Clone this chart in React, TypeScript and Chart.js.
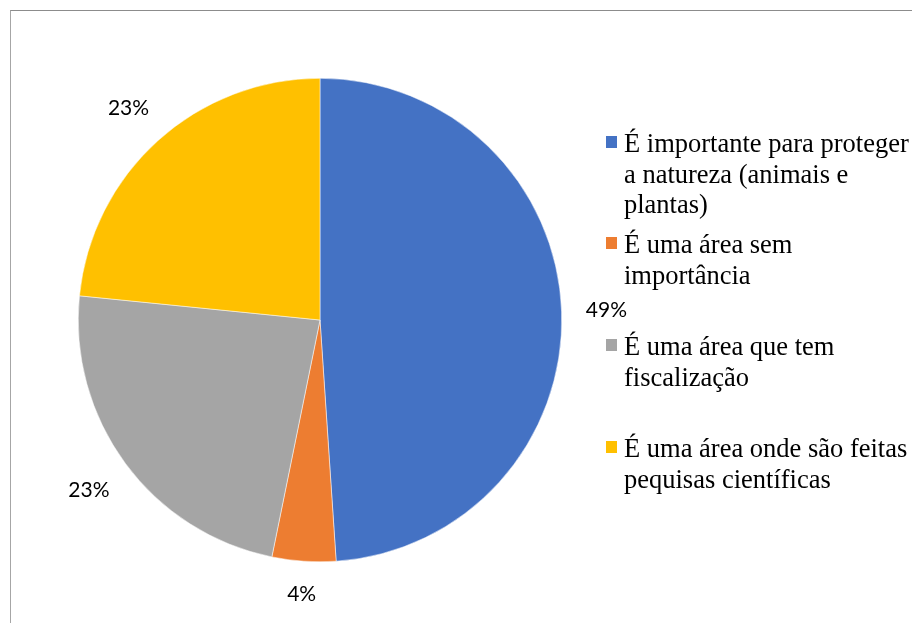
import React, { useEffect, useRef } from "react";
import { Chart, registerables } from "chart.js";

Chart.register(...registerables);

const categories = [
  "É importante para proteger a natureza (animais e plantas)",
  "É uma área sem importância",
  "É uma área que tem fiscalização",
  "É uma área onde são feitas pequisas científicas",
];
const legendLines = [
  ["É importante para proteger", "a natureza (animais e", "plantas)"],
  ["É uma área sem", "importância"],
  ["É uma área que tem", "fiscalização"],
  ["É uma área onde são feitas", "pequisas científicas"],
];
const values = [23, 2, 11, 11];
const colors = ["#4472C4", "#ED7D31", "#A5A5A5", "#FFC000"];
const legendTops = [128, 229, 331, 433];

const labelPlugin = {
  id: "outerLabels",
  afterDatasetsDraw(chart: any) {
    const ctx = chart.ctx;
    const meta = chart.getDatasetMeta(0);
    const data = chart.data.datasets[0].data as number[];
    const total = data.reduce((a: number, b: number) => a + b, 0);
    ctx.save();
    ctx.font = "21px Lato";
    ctx.fillStyle = "#000000";
    ctx.textAlign = "center";
    ctx.textBaseline = "middle";
    meta.data.forEach((arc: any, i: number) => {
      const p = arc.getProps(["x", "y", "startAngle", "endAngle", "outerRadius"], true);
      const mid = (p.startAngle + p.endAngle) / 2;
      const text = Math.round((data[i] / total) * 100) + "%";
      const w = ctx.measureText(text).width;
      const h = 16;
      const c = Math.cos(mid);
      const s = Math.sin(mid);
      const off = 24 + Math.abs(c) * w / 2 + Math.abs(s) * h / 2;
      const r = p.outerRadius + off;
      ctx.fillText(text, p.x + c * r, p.y + s * r);
    });
    ctx.restore();
  },
};

export default function App() {
  const ref = useRef<HTMLCanvasElement>(null);
  useEffect(() => {
    if (!ref.current) return;
    const chart = new Chart(ref.current, {
      type: "pie",
      data: {
        labels: categories,
        datasets: [
          {
            data: values,
            backgroundColor: colors,
            borderColor: "#ffffff",
            borderWidth: 0.5,
          },
        ],
      },
      options: {
        responsive: false,
        animation: false,
        layout: { padding: { left: 78, top: 78, right: 350, bottom: 61 } },
        plugins: {
          legend: { display: false },
          tooltip: { enabled: false },
        },
      },
      plugins: [labelPlugin],
    });
    return () => chart.destroy();
  }, []);

  return (
    <div
      style={{
        position: "fixed",
        left: 0,
        top: 0,
        width: 912,
        height: 623,
        background: "#ffffff",
        overflow: "hidden",
      }}
    >
      <canvas ref={ref} width={912} height={623} style={{ position: "absolute", left: 0, top: 0 }} />
      <div
        style={{
          position: "absolute",
          left: 10,
          top: 10,
          width: 920,
          height: 640,
          borderTop: "1px solid #8c8c8c",
          borderLeft: "1px solid #a6a6a6",
          pointerEvents: "none",
        }}
      />
      {legendLines.map((lines, i) => (
        <div key={i} style={{ position: "absolute", left: 606, top: legendTops[i] }}>
          <div
            style={{
              position: "absolute",
              left: 0,
              top: 8,
              width: 11,
              height: 12,
              background: colors[i],
            }}
          />
          <div
            style={{
              position: "absolute",
              left: 18,
              top: 0,
              whiteSpace: "nowrap",
              fontFamily: "'Liberation Serif', 'Times New Roman', serif",
              fontSize: 26.5,
              lineHeight: "30.5px",
              color: "#000000",
            }}
          >
            {lines.map((l, j) => (
              <div key={j}>{l}</div>
            ))}
          </div>
        </div>
      ))}
    </div>
  );
}
